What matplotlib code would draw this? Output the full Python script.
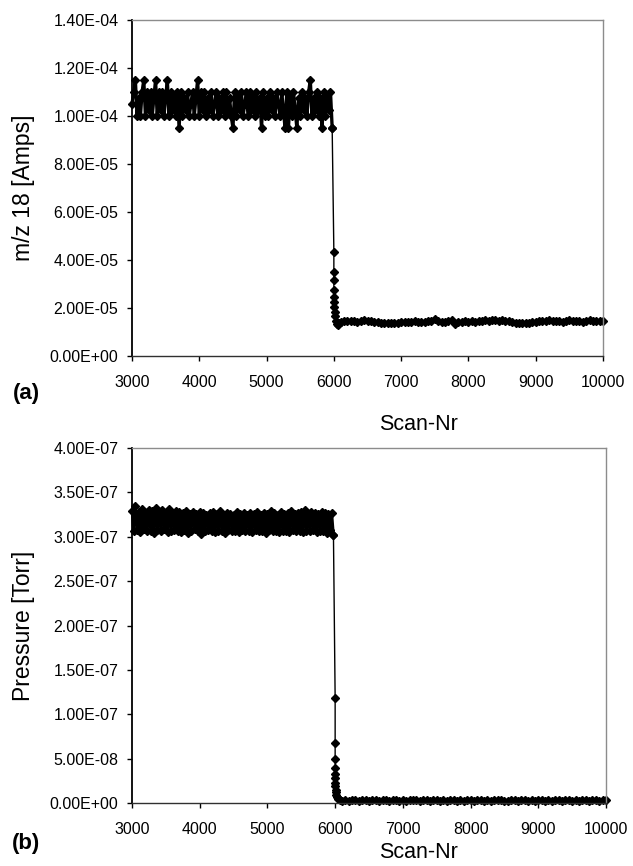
import numpy as np
import matplotlib
matplotlib.use('Agg')
import matplotlib.pyplot as plt
from matplotlib.ticker import FuncFormatter

plt.rcParams['font.family'] = ['Liberation Sans', 'DejaVu Sans']

# ---- panel (a): m/z 18 ion current, values in units of 1e-5 A ----
scan_a_pre = np.arange(3000, 6000, 25)
amps_pre = [
    10.5, 11.0, 11.5, 10.0, 10.75, 10.0, 11.0, 11.5, 10.0, 11.0,
    10.25, 11.0, 10.0, 10.75, 11.5, 10.0, 11.0, 10.25, 11.0, 10.0,
    10.75, 11.5, 10.0, 11.0, 10.25, 10.75, 10.0, 11.0, 9.5, 11.0,
    10.0, 10.75, 10.25, 11.0, 10.0, 10.5, 11.0, 10.0, 10.75, 11.5,
    10.0, 11.0, 10.25, 11.0, 10.0, 10.75, 10.25, 11.0, 10.0, 10.5,
    11.0, 10.0, 10.75, 10.25, 11.0, 10.0, 11.0, 10.25, 10.75, 10.0,
    9.5, 11.0, 10.0, 10.75, 10.25, 11.0, 10.0, 10.5, 11.0, 10.0,
    11.0, 10.25, 10.75, 10.0, 11.0, 10.25, 10.75, 9.5, 11.0, 10.0,
    10.75, 10.0, 11.0, 10.25, 10.75, 10.0, 11.0, 10.5, 10.0, 11.0,
    10.25, 9.5, 11.0, 9.5, 10.75, 10.0, 11.0, 10.25, 9.5, 10.75,
    10.0, 11.0, 10.25, 10.75, 10.0, 11.0, 11.5, 10.0, 10.75, 10.25,
    11.0, 10.0, 10.75, 9.5, 11.0, 10.0, 10.75, 10.25, 11.0, 9.5,
]
scan_a_drop = [6000, 6000, 6000, 6000, 6000, 6000, 6000, 6010, 6020, 6030, 6045, 6060, 6080, 6100]
amps_drop = [4.35, 3.5, 3.15, 2.75, 2.45, 2.25, 2.05, 1.85, 1.65, 1.45, 1.35, 1.3, 1.38, 1.42]
scan_a_post = np.arange(6150, 10001, 50)
amps_post = [
    1.46, 1.44, 1.47, 1.45, 1.43, 1.46, 1.48, 1.44, 1.45, 1.43, 1.40,
    1.38, 1.36, 1.39, 1.37, 1.38, 1.36, 1.40,
    1.42, 1.43, 1.41, 1.44, 1.42, 1.40, 1.43, 1.45, 1.47,
    1.53, 1.44, 1.41, 1.43, 1.46,
    1.52, 1.32,
    1.42, 1.41, 1.44, 1.43, 1.45, 1.42, 1.44,
    1.47, 1.49, 1.46, 1.50, 1.48, 1.47, 1.49, 1.46, 1.44,
    1.40, 1.37, 1.38, 1.36, 1.39, 1.38, 1.41,
    1.43, 1.45, 1.44, 1.46, 1.48, 1.45, 1.44, 1.47, 1.43, 1.46,
    1.49, 1.45, 1.44, 1.46, 1.43, 1.47, 1.48, 1.45, 1.46, 1.44, 1.47,
]

# ---- panel (b): pressure, values in units of 1e-8 Torr ----
scan_b_pre = np.arange(3000, 6000, 25)
torr_pre = [
    32.9, 30.6, 33.5, 30.8, 32.8, 30.5, 33.1, 30.9, 32.7, 30.6,
    33.0, 30.7, 32.9, 30.4, 33.2, 30.8, 32.8, 30.6, 33.0, 30.9,
    32.7, 30.5, 33.1, 30.7, 32.6, 30.8, 32.9, 30.6, 32.8, 30.5,
    32.7, 30.8, 32.9, 30.4, 32.6, 30.7, 32.8, 30.9, 32.6, 30.6,
    32.8, 30.3, 32.7, 30.7, 32.5, 30.8, 32.7, 30.6, 32.8, 30.5,
    32.6, 30.7, 32.9, 30.6, 32.5, 30.4, 32.7, 30.8, 32.6, 30.6,
    32.5, 30.7, 32.8, 30.5, 32.6, 30.8, 32.7, 30.6, 32.5, 30.7,
    32.7, 30.5, 32.6, 30.8, 32.8, 30.6, 32.5, 30.7, 32.7, 30.4,
    32.6, 30.8, 32.9, 30.6, 32.7, 30.7, 32.5, 30.5, 32.8, 30.6,
    32.6, 30.7, 32.7, 30.5, 32.9, 30.8, 32.6, 30.6, 32.7, 30.7,
    32.8, 30.5, 33.0, 30.7, 32.6, 30.6, 32.8, 30.8, 32.7, 30.5,
    32.6, 30.7, 32.8, 30.6, 32.7, 30.4, 32.6, 30.8, 32.7, 30.2,
]
scan_b_drop = [6000, 6000, 6000, 6000, 6000, 6000, 6000, 6005, 6010, 6015, 6020, 6030, 6040, 6055, 6075, 6100]
torr_drop = [11.8, 6.8, 5.0, 4.0, 3.3, 2.8, 2.3, 1.9, 1.5, 1.2, 0.9, 0.7, 0.5, 0.4, 0.32, 0.28]
scan_b_post = np.arange(6150, 10001, 50)
torr_post = [
    0.30, 0.28, 0.31, 0.29, 0.27, 0.30, 0.32, 0.28, 0.29, 0.31, 0.27,
    0.29, 0.30, 0.28, 0.31, 0.29, 0.27, 0.30,
    0.28, 0.31, 0.29, 0.30, 0.27, 0.29, 0.32, 0.28, 0.30,
    0.29, 0.27, 0.31, 0.28, 0.30,
    0.29, 0.28,
    0.30, 0.27, 0.29, 0.31, 0.28, 0.30, 0.29,
    0.27, 0.30, 0.28, 0.31, 0.29, 0.30, 0.28, 0.27, 0.29,
    0.31, 0.28, 0.30, 0.29, 0.27, 0.30, 0.28,
    0.29, 0.31, 0.28, 0.30, 0.27, 0.29, 0.30, 0.28, 0.31, 0.29,
    0.27, 0.30, 0.28, 0.29, 0.31, 0.28, 0.30, 0.29, 0.27, 0.30, 0.29,
]

W, H = 633, 866
fig = plt.figure(figsize=(W / 100, H / 100), dpi=100)

fmt = FuncFormatter(lambda v, p: f"{v:.2E}")


def style(ax, yticks):
    ax.set_xlim(3000, 10000)
    ax.set_xticks(np.arange(3000, 10001, 1000))
    ax.set_ylim(yticks[0], yticks[-1])
    ax.set_yticks(yticks)
    ax.yaxis.set_major_formatter(fmt)
    ax.tick_params(direction='out', length=3.8, width=1, labelsize=11.5, colors='black')
    ax.tick_params(axis='x', pad=10)
    ax.tick_params(axis='y', pad=6)
    ax.spines['left'].set_color('black')
    ax.spines['left'].set_linewidth(1.3)
    ax.spines['bottom'].set_color('#303030')
    ax.spines['bottom'].set_linewidth(1.0)
    for s in ('top', 'right'):
        ax.spines[s].set_color('#8c8c8c')
        ax.spines[s].set_linewidth(1.0)


def draw(ax, pre, drop, post, scale, lw_pre):
    # dense noisy plateau drawn heavier, the decay and baseline with a thin line
    xp = np.asarray(pre[0], float)
    yp = np.asarray(pre[1], float) * scale
    ax.plot(xp, yp, color='black', lw=lw_pre, marker='D', ms=3.8, clip_on=False)
    xs = np.concatenate([xp[-1:], np.asarray(drop[0], float), np.asarray(post[0], float)])
    ys = np.concatenate([yp[-1:], np.asarray(drop[1], float) * scale, np.asarray(post[1], float) * scale])
    ax.plot(xs, ys, color='black', lw=1.0, marker='D', ms=3.8, clip_on=False)


ax1 = fig.add_axes([132 / W, 1 - 356 / H, (603 - 132) / W, (356 - 20) / H])
draw(ax1, (scan_a_pre, amps_pre), (scan_a_drop, amps_drop), (scan_a_post, amps_post), 1e-5, 2.4)
style(ax1, np.arange(0, 1.41e-4, 2e-5))
ax1.set_ylabel('m/z 18 [Amps]', fontsize=16.5)

ax2 = fig.add_axes([132 / W, 1 - 803 / H, (606 - 132) / W, (803 - 448) / H])
draw(ax2, (scan_b_pre, torr_pre), (scan_b_drop, torr_drop), (scan_b_post, torr_post), 1e-8, 2.0)
style(ax2, np.arange(0, 4.01e-7, 5e-8))
ax2.set_ylabel('Pressure [Torr]', fontsize=16.5)

# y-label positions (axes fraction, anchor is the right edge of the rotated text)
ax1.yaxis.set_label_coords((35 - 132) / (603 - 132), 0.5)
ax2.yaxis.set_label_coords((35 - 132) / (606 - 132), 0.5)

fig.text(418 / W, 1 - 424 / H, 'Scan-Nr', fontsize=15.5, ha='center', va='center')
fig.text(418 / W, 1 - 853 / H, 'Scan-Nr', fontsize=15.5, ha='center', va='center')
fig.text(26 / W, 1 - 393 / H, '(a)', fontsize=16, fontweight='bold', ha='center', va='center')
fig.text(26 / W, 1 - 844 / H, '(b)', fontsize=16, fontweight='bold', ha='center', va='center')

fig.savefig('out.png', dpi=100)
